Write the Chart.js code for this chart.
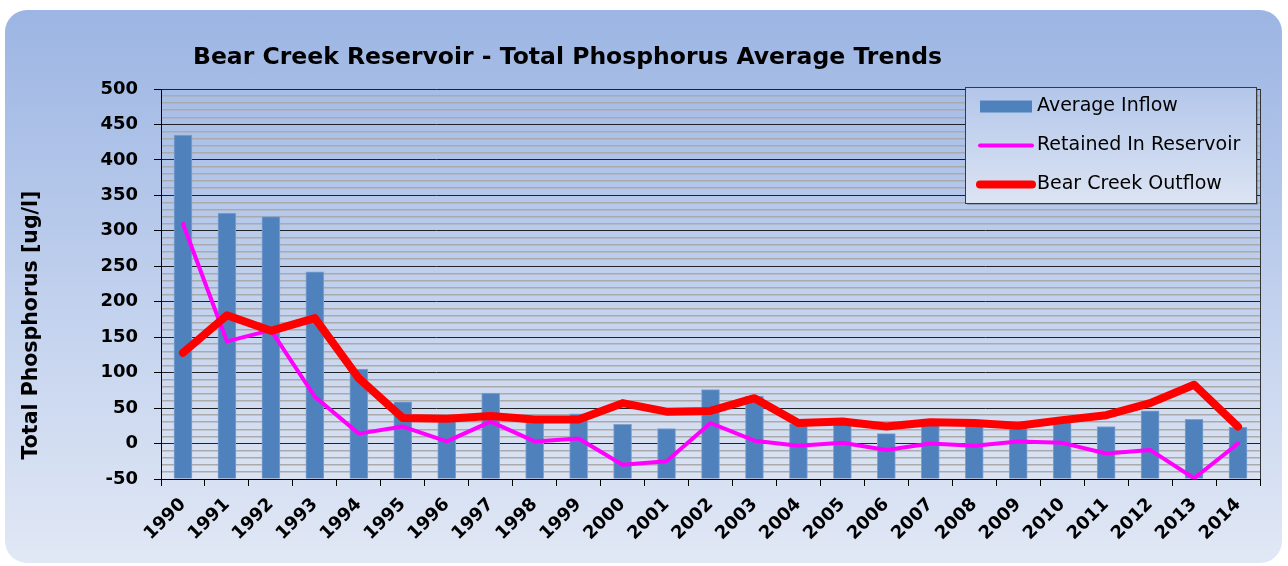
<!DOCTYPE html>
<html>
<head>
<meta charset="utf-8">
<script src="https://cdn.jsdelivr.net/npm/chart.js@4.4.1/dist/chart.umd.min.js"></script>
<style>
    html, body { margin: 0; padding: 0; background: #ffffff; }
    #wrap { position: relative; width: 1288px; height: 566px; overflow: hidden; }
    #card {
        position: absolute; left: 5px; top: 10px; width: 1277px; height: 553px;
        border-radius: 22px;
        background: linear-gradient(to bottom, #9cb5e3 0%, #c3d2ee 55%, #e1e8f5 100%);
    }
    #chart { position: absolute; left: 0; top: 0; }
</style>
</head>
<body>
<div id="wrap">
    <div id="card"></div>
    <canvas id="chart" width="1288" height="566"></canvas>
</div>
<script>
const years = ['1990', '1991', '1992', '1993', '1994', '1995', '1996', '1997', '1998', '1999',
    '2000', '2001', '2002', '2003', '2004', '2005', '2006', '2007', '2008', '2009',
    '2010', '2011', '2012', '2013', '2014'];
const averageInflow = [435, 325, 320, 242, 105, 59, 36, 71, 36, 42, 27, 21, 76, 67, 28, 31, 14, 30, 27, 27, 33, 24, 46, 34, 23];
const retainedInReservoir = [310, 144, 160, 66, 14, 24, 3, 31, 3, 7, -30, -25, 29, 4, -3, 1, -9, 0, -3, 3, 1, -14, -9, -49, 0];
const bearCreekOutflow = [128, 181, 159, 177, 92, 36, 35, 39, 34, 34, 57, 45, 46, 64, 29, 31, 24, 30, 29, 25, 33, 40, 57, 83, 24];
const yMin = -50;
const yMax = 500;

const FONT = '"DejaVu Sans", "Liberation Sans", Arial, sans-serif';

// plot background, border, title, axis title and legend
const decorations = {
    id: 'decorations',
    beforeDraw(chart) {
        const { ctx, chartArea: a } = chart;
        const g = ctx.createLinearGradient(0, a.top, 0, a.bottom);
        g.addColorStop(0, '#a6bde7');
        g.addColorStop(1, '#dbe3f3');
        ctx.save();
        ctx.fillStyle = g;
        ctx.fillRect(a.left, a.top, a.right - a.left, a.bottom - a.top);
        ctx.restore();
    },
    afterDraw(chart) {
        const { ctx, chartArea: a } = chart;
        ctx.save();
        // right border of plot
        ctx.strokeStyle = '#333';
        ctx.lineWidth = 1;
        ctx.beginPath();
        ctx.moveTo(a.right + 0.5, a.top);
        ctx.lineTo(a.right + 0.5, a.bottom);
        ctx.stroke();

        // title
        ctx.fillStyle = '#000';
        ctx.font = 'bold 23.5px ' + FONT;
        ctx.textAlign = 'left';
        ctx.textBaseline = 'alphabetic';
        ctx.fillText('Bear Creek Reservoir - Total Phosphorus Average Trends', 193, 64);

        // y axis title
        ctx.save();
        ctx.translate(32, 325);
        ctx.rotate(-Math.PI / 2);
        ctx.font = 'bold 20.5px ' + FONT;
        ctx.textAlign = 'center';
        ctx.textBaseline = 'middle';
        ctx.fillText('Total Phosphorus [ug/l]', 0, 0);
        ctx.restore();

        // legend
        const lx = 965, ly = 87, lw = 291, lh = 116;
        ctx.fillStyle = 'rgba(60,60,60,0.3)';
        ctx.fillRect(lx + 2, ly + 2, lw, lh);
        const lg = ctx.createLinearGradient(0, ly, 0, ly + lh);
        lg.addColorStop(0, '#b3c6ea');
        lg.addColorStop(1, '#dce4f3');
        ctx.fillStyle = lg;
        ctx.fillRect(lx, ly, lw, lh);
        ctx.strokeStyle = '#3a3a3a';
        ctx.strokeRect(lx + 0.5, ly + 0.5, lw, lh);

        const ds = chart.data.datasets;
        const rows = [106.5, 145.5, 184.5];
        ctx.font = '19px ' + FONT;
        ctx.textBaseline = 'middle';
        ctx.textAlign = 'left';
        ds.forEach((d, i) => {
            const y = rows[i];
            if (d.type === 'line') {
                ctx.strokeStyle = d.borderColor;
                ctx.lineWidth = d.borderWidth;
                ctx.lineCap = 'round';
                ctx.beginPath();
                ctx.moveTo(980, y);
                ctx.lineTo(1032, y);
                ctx.stroke();
            } else {
                ctx.fillStyle = d.backgroundColor;
                ctx.fillRect(980, y - 6, 52, 12);
            }
            ctx.fillStyle = '#000';
            ctx.fillText(d.label, 1037, y);
        });
        ctx.restore();
    }
};

new Chart(document.getElementById('chart'), {
    type: 'bar',
    data: {
        labels: years,
        datasets: [
            {
                type: 'bar',
                label: 'Average Inflow',
                data: averageInflow,
                base: yMin,
                backgroundColor: '#4f81bd',
                borderColor: '#7ea2d2',
                borderWidth: 1,
                barThickness: 18,
                order: 3
            },
            {
                type: 'line',
                label: 'Retained In Reservoir',
                data: retainedInReservoir,
                borderColor: '#ff00ff',
                backgroundColor: '#ff00ff',
                borderWidth: 4,
                pointRadius: 0,
                tension: 0,
                borderCapStyle: 'round',
                borderJoinStyle: 'round',
                order: 2
            },
            {
                type: 'line',
                label: 'Bear Creek Outflow',
                data: bearCreekOutflow,
                borderColor: '#ff0000',
                backgroundColor: '#ff0000',
                borderWidth: 8,
                pointRadius: 0,
                tension: 0,
                borderCapStyle: 'round',
                borderJoinStyle: 'round',
                order: 1
            }
        ]
    },
    options: {
        responsive: false,
        animation: false,
        layout: { padding: { top: 89, right: 28, left: 0, bottom: 0 } },
        plugins: {
            legend: { display: false },
            title: { display: false },
            tooltip: { enabled: false }
        },
        scales: {
            x: {
                afterFit(scale) { scale.height = 87; },
                border: { color: '#000', width: 1 },
                grid: {
                    drawOnChartArea: false,
                    drawTicks: true,
                    tickLength: 7,
                    tickColor: '#000'
                },
                ticks: {
                    autoSkip: false,
                    minRotation: 45,
                    maxRotation: 45,
                    padding: 8,
                    color: '#000',
                    font: { family: FONT, size: 18, weight: 'bold' }
                }
            },
            y: {
                min: yMin,
                max: yMax,
                afterFit(scale) { scale.width = 161; },
                border: { color: '#000', width: 1 },
                grid: {
                    color: (c) => (c.tick && c.tick.value % 50 === 0) ? '#222' : '#aaaaaa',
                    tickColor: (c) => (c.tick && c.tick.value % 50 === 0) ? '#000' : 'rgba(0,0,0,0)',
                    tickLength: 7,
                    lineWidth: (c) => (c.tick && c.tick.value % 50 === 0) ? 1 : 1.6
                },
                ticks: {
                    stepSize: 10,
                    autoSkip: false,
                    padding: 16,
                    color: '#000',
                    font: { family: FONT, size: 18, weight: 'bold' },
                    callback: (v) => v % 50 === 0 ? v : ''
                }
            }
        }
    },
    plugins: [decorations]
});
</script>
</body>
</html>
